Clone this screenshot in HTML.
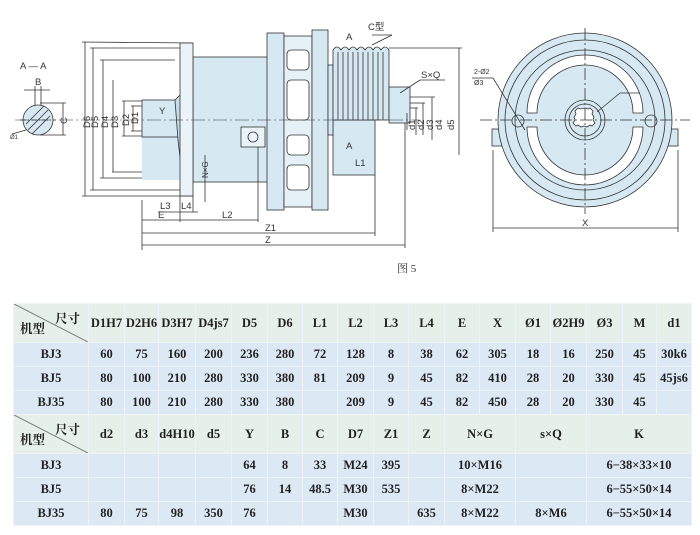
<!DOCTYPE html>
<html><head><meta charset="utf-8"><style>
body{margin:0;width:700px;height:535px;background:#fff;overflow:hidden;font-family:"Liberation Serif","Noto Serif CJK SC",serif;}
svg{position:absolute;left:0;top:0}
table{position:absolute;left:13px;top:303px;border-collapse:collapse;font-weight:bold;font-size:12.5px;color:#222}
td{border:1px solid #eef3f8;text-align:center;padding:0;background:#dce9f5}
tr.h td{background:#e6efe9}
td.dg{position:relative}
td.dg svg{position:absolute;left:0;top:0;width:100%;height:100%}
</style></head><body>
<svg width="700" height="300" viewBox="0 0 700 300" font-family="Liberation Sans, sans-serif" font-size="9" fill="#333" stroke="#333" stroke-width="0.8">
<g fill="none">
<circle cx="38" cy="120" r="15" fill="#d6e9f3"/>
<line x1="20" y1="120" x2="56" y2="120" stroke-dasharray="6,2,1,2"/>
<line x1="24" y1="90" x2="50" y2="90"/><line x1="35" y1="86" x2="35" y2="106"/><line x1="41" y1="86" x2="41" y2="106"/>
<line x1="40" y1="103" x2="66" y2="103"/><line x1="40" y1="135" x2="66" y2="135"/><line x1="63" y1="103" x2="63" y2="135"/>
<line x1="28" y1="130" x2="48" y2="110"/><line x1="26" y1="124" x2="44" y2="106"/><line x1="32" y1="134" x2="50" y2="116"/>
<line x1="12" y1="134" x2="26" y2="130"/>
<line x1="82" y1="42" x2="193" y2="43"/><line x1="82" y1="196" x2="193" y2="196"/><line x1="85" y1="42" x2="85" y2="196"/>
<line x1="90" y1="48" x2="180" y2="48"/><line x1="90" y1="190" x2="180" y2="190"/><line x1="93" y1="48" x2="93" y2="190"/>
<line x1="100" y1="60" x2="175" y2="60"/><line x1="100" y1="178" x2="175" y2="178"/><line x1="103" y1="60" x2="103" y2="178"/>
<line x1="112" y1="172" x2="175" y2="172"/><line x1="113" y1="80" x2="113" y2="172"/>
<line x1="122" y1="101" x2="145" y2="101"/><line x1="122" y1="136" x2="145" y2="136"/><line x1="124" y1="101" x2="124" y2="136"/>
<line x1="131" y1="106" x2="145" y2="106"/><line x1="131" y1="131" x2="145" y2="131"/><line x1="133" y1="106" x2="133" y2="131"/>
</g>
<rect x="193" y="57" width="75" height="125" fill="#d6e9f3" stroke="#333"/>
<rect x="142" y="100" width="38" height="80" fill="#d6e9f3" stroke="none"/>
<rect x="142" y="100" width="38" height="37" fill="#d6e9f3"/>
<path d="M175 100 L180 95 L193 105 L193 185 L183 183 L178 140 Z" fill="#c6dbe8"/>
<rect x="180" y="43" width="13" height="153" fill="#eaf3f8"/>
<rect x="241" y="127" width="24" height="20" fill="#eaf3f8"/><circle cx="253" cy="137" r="5" fill="none"/>
<rect x="267" y="33" width="17" height="177" fill="#d6e9f3"/>
<rect x="284" y="36" width="28" height="171" fill="#e6f1f7"/>
<rect x="312" y="30" width="16" height="180" fill="#d6e9f3"/>
<g fill="#fff" stroke="#333">
<rect x="287" y="50" width="22" height="20" rx="4"/><rect x="287" y="80" width="22" height="40" rx="4"/><rect x="287" y="135" width="22" height="20" rx="4"/><rect x="287" y="165" width="22" height="25" rx="4"/>
</g>
<rect x="333" y="120" width="42" height="55" fill="#d6e9f3"/>
<rect x="328" y="65" width="5" height="70" fill="#d6e9f3"/>
<path d="M333 50 q4 -6 8 0 q4 -6 8 0 q4 -6 8 0 q4 -6 8 0 q4 -6 8 0 q4 -6 8 0 q4 -6 8 0 L389 120 L333 120 Z" fill="#d6e9f3"/>
<g fill="none"><line x1="338" y1="52" x2="338" y2="120"/><line x1="343" y1="52" x2="343" y2="120"/><line x1="348" y1="52" x2="348" y2="120"/><line x1="353" y1="52" x2="353" y2="120"/><line x1="358" y1="52" x2="358" y2="120"/><line x1="363" y1="52" x2="363" y2="120"/><line x1="368" y1="52" x2="368" y2="120"/><line x1="373" y1="52" x2="373" y2="120"/><line x1="378" y1="52" x2="378" y2="120"/><line x1="383" y1="52" x2="383" y2="120"/></g>
<rect x="389" y="87" width="21" height="36" fill="#d6e9f3"/>
<g fill="none">
<line x1="15" y1="120" x2="420" y2="120" stroke-dasharray="14,3,2,3" stroke-width="0.5"/>
<line x1="389" y1="48" x2="462" y2="48"/><line x1="459" y1="48" x2="459" y2="155"/>
<line x1="410" y1="97" x2="435" y2="97"/><line x1="432" y1="97" x2="432" y2="140"/>
<line x1="410" y1="103" x2="425" y2="103"/><line x1="423" y1="103" x2="423" y2="135"/>
<line x1="410" y1="108" x2="418" y2="108"/><line x1="416" y1="108" x2="416" y2="135"/>
<line x1="407" y1="113" x2="407" y2="130"/>
<line x1="400" y1="93" x2="420" y2="80"/><line x1="420" y1="80" x2="445" y2="80"/>
<line x1="372" y1="45" x2="392" y2="35"/><line x1="372" y1="35" x2="392" y2="35"/>
<line x1="142" y1="200" x2="142" y2="250"/><line x1="180" y1="196" x2="180" y2="222"/><line x1="193" y1="196" x2="193" y2="212"/>
<line x1="158" y1="212" x2="198" y2="212"/><line x1="142" y1="220" x2="258" y2="220"/><line x1="258" y1="147" x2="258" y2="222"/>
<line x1="142" y1="233" x2="375" y2="233"/><line x1="375" y1="175" x2="375" y2="236"/>
<line x1="142" y1="245" x2="405" y2="245"/><line x1="405" y1="123" x2="405" y2="248"/>
<line x1="205" y1="155" x2="205" y2="202"/>
</g>
<g stroke="none" font-size="9.5">
<text x="20" y="69">A — A</text><text x="35" y="85">B</text><text x="10" y="139" font-size="6">Ø1</text>
<text transform="translate(67,124) rotate(-90)">C</text>
<text transform="translate(90,128) rotate(-90)">D6</text><text transform="translate(98,128) rotate(-90)">D5</text>
<text transform="translate(108,128) rotate(-90)">D4</text><text transform="translate(118,128) rotate(-90)">D3</text>
<text transform="translate(129,126) rotate(-90)">D2</text><text transform="translate(138,124) rotate(-90)">D1</text>
<text x="159" y="114">Y</text><text transform="translate(208,178) rotate(-90)" font-size="8">N×G</text>
<text x="160" y="209">L3</text><text x="181" y="209">L4</text><text x="158" y="218">E</text><text x="222" y="218">L2</text>
<text x="265" y="231">Z1</text><text x="265" y="243">Z</text>
<text x="346" y="40">A</text><text x="368" y="30">C型</text><text x="421" y="78">S×Q</text>
<text x="346" y="149">A</text><text x="355" y="166">L1</text>
<text transform="translate(415,130) rotate(-90)">d1</text><text transform="translate(424,130) rotate(-90)">d2</text>
<text transform="translate(433,130) rotate(-90)">d3</text><text transform="translate(442,130) rotate(-90)">d4</text><text transform="translate(454,130) rotate(-90)">d5</text>
<text x="474" y="74" font-size="7">2-Ø2</text><text x="474" y="85" font-size="7">Ø3</text>
<text x="603" y="91">K</text><text x="582" y="226">X</text>
<text x="397" y="272" font-family="Liberation Serif, Noto Serif CJK SC, serif" font-size="11">图 5</text>
</g>
<rect x="492" y="129" width="12" height="17" fill="#d6e9f3"/><rect x="666" y="129" width="12" height="17" fill="#d6e9f3"/>
<circle cx="585" cy="120" r="87" fill="#d6e9f3"/>
<g fill="none"><circle cx="585" cy="120" r="80"/><circle cx="585" cy="120" r="70"/>
<path d="M527 113 A58 58 0 0 1 643 113 L633 113 A48 48 0 0 0 537 113 Z" fill="#fff"/>
<path d="M527 127 A58 58 0 0 0 643 127 L633 127 A48 48 0 0 1 537 127 Z" fill="#fff"/>
<circle cx="585" cy="120" r="20"/><circle cx="585" cy="120" r="16"/>
<path d="M585 108 l3 1 2 -1 3 3 -1 3 2 3 -1 3 2 3 -3 3 -2 -1 -3 2 -3 -1 -3 1 -3 -2 -2 1 -3 -3 2 -3 -1 -3 2 -3 -1 -3 3 -3 2 1 z" fill="#fff"/>
<line x1="585" y1="28" x2="585" y2="214" stroke-dasharray="12,3,2,3"/>
<line x1="480" y1="120" x2="690" y2="120" stroke-dasharray="12,3,2,3"/>
<circle cx="518" cy="121" r="6"/><circle cx="651" cy="121" r="6"/>
<line x1="493" y1="150" x2="493" y2="232"/><line x1="678" y1="150" x2="678" y2="232"/><line x1="493" y1="228" x2="678" y2="228"/>
<line x1="493" y1="78" x2="525" y2="130"/><line x1="472" y1="78" x2="493" y2="78"/>
<line x1="597" y1="112" x2="620" y2="93"/><line x1="620" y1="93" x2="640" y2="93"/>
</g>
</svg>
<table>
<colgroup><col style="width:75px"><col style="width:36px"><col style="width:34px"><col style="width:37px"><col style="width:36px"><col style="width:36px"><col style="width:35px"><col style="width:35px"><col style="width:36px"><col style="width:35px"><col style="width:36px"><col style="width:35px"><col style="width:36px"><col style="width:35px"><col style="width:36px"><col style="width:36px"><col style="width:34px"><col style="width:35px"></colgroup>
<tr class="h" style="height:39px"><td class="dg"><svg viewBox="0 0 100 100" preserveAspectRatio="none"><line x1="0" y1="0" x2="100" y2="100" stroke="#777" stroke-width="1" vector-effect="non-scaling-stroke"/></svg><span style="position:absolute;right:8px;top:5px">尺寸</span><span style="position:absolute;left:6px;bottom:5px">机型</span></td><td>D1H7</td><td>D2H6</td><td>D3H7</td><td>D4js7</td><td>D5</td><td>D6</td><td>L1</td><td>L2</td><td>L3</td><td>L4</td><td>E</td><td>X</td><td>Ø1</td><td>Ø2H9</td><td>Ø3</td><td>M</td><td>d1</td></tr>
<tr style="height:24px"><td>BJ3</td><td>60</td><td>75</td><td>160</td><td>200</td><td>236</td><td>280</td><td>72</td><td>128</td><td>8</td><td>38</td><td>62</td><td>305</td><td>18</td><td>16</td><td>250</td><td>45</td><td>30k6</td></tr>
<tr style="height:24px"><td>BJ5</td><td>80</td><td>100</td><td>210</td><td>280</td><td>330</td><td>380</td><td>81</td><td>209</td><td>9</td><td>45</td><td>82</td><td>410</td><td>28</td><td>20</td><td>330</td><td>45</td><td>45js6</td></tr>
<tr style="height:24px"><td>BJ35</td><td>80</td><td>100</td><td>210</td><td>280</td><td>330</td><td>380</td><td></td><td>209</td><td>9</td><td>45</td><td>82</td><td>450</td><td>28</td><td>20</td><td>330</td><td>45</td><td></td></tr>
<tr class="h" style="height:39px"><td class="dg"><svg viewBox="0 0 100 100" preserveAspectRatio="none"><line x1="0" y1="0" x2="100" y2="100" stroke="#777" stroke-width="1" vector-effect="non-scaling-stroke"/></svg><span style="position:absolute;right:8px;top:5px">尺寸</span><span style="position:absolute;left:6px;bottom:5px">机型</span></td><td>d2</td><td>d3</td><td>d4H10</td><td>d5</td><td>Y</td><td>B</td><td>C</td><td>D7</td><td>Z1</td><td>Z</td><td colspan="2">N×G</td><td colspan="2">s×Q</td><td colspan="3">K</td></tr>
<tr style="height:24px"><td>BJ3</td><td></td><td></td><td></td><td></td><td>64</td><td>8</td><td>33</td><td>M24</td><td>395</td><td></td><td colspan="2">10×M16</td><td colspan="2"></td><td colspan="3">6−38×33×10</td></tr>
<tr style="height:24px"><td>BJ5</td><td></td><td></td><td></td><td></td><td>76</td><td>14</td><td>48.5</td><td>M30</td><td>535</td><td></td><td colspan="2">8×M22</td><td colspan="2"></td><td colspan="3">6−55×50×14</td></tr>
<tr style="height:24px"><td>BJ35</td><td>80</td><td>75</td><td>98</td><td>350</td><td>76</td><td></td><td></td><td>M30</td><td></td><td>635</td><td colspan="2">8×M22</td><td colspan="2">8×M6</td><td colspan="3">6−55×50×14</td></tr>
</table>
</body></html>
